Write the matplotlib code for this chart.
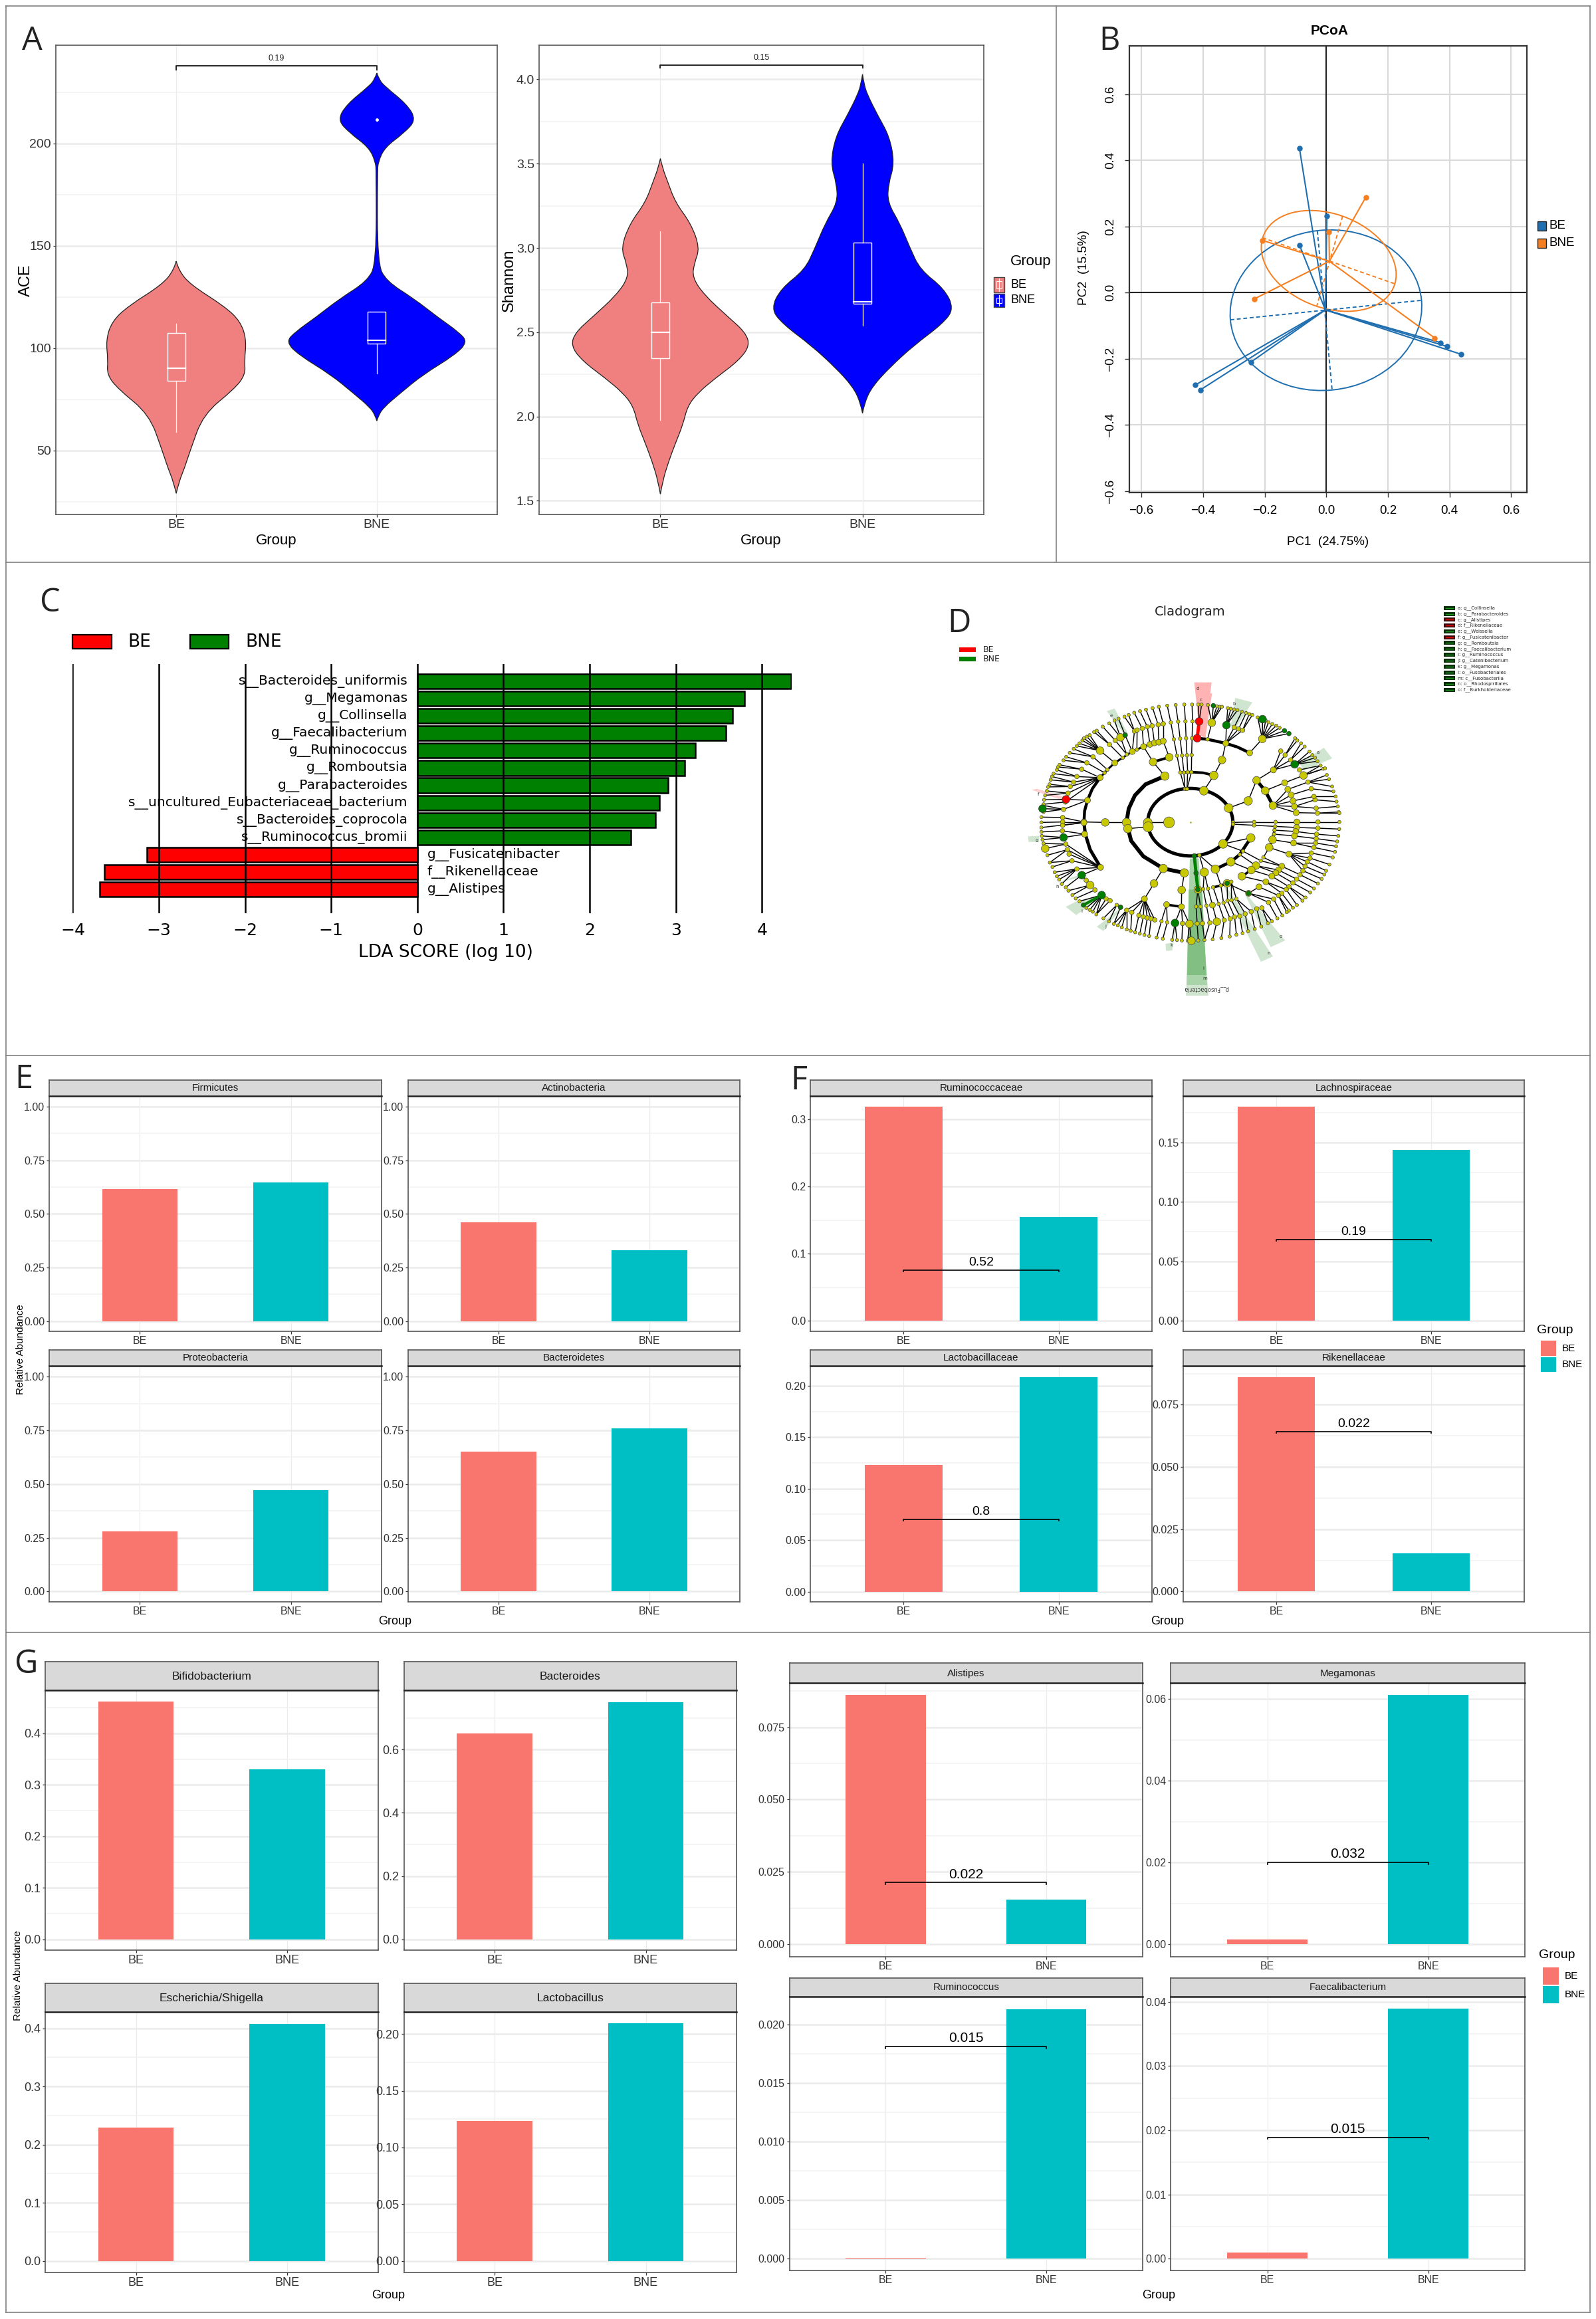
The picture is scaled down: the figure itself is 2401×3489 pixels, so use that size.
import matplotlib
matplotlib.use('Agg')
import matplotlib.pyplot as plt
from matplotlib.lines import Line2D
from matplotlib.patches import Ellipse, PathPatch, Polygon, Rectangle
from matplotlib.path import Path

W, H = 2401, 3489
NARROW = ['Liberation Sans', 'DejaVu Sans']
SANS = ['Liberation Sans', 'DejaVu Sans']
SALMON = '#F8766D'
TEAL = '#00BFC4'
GROUPS = ['BE', 'BNE']

# Panel A violins: value along y, half width in category units
ace_be_y = [142.4, 138, 131, 120.4, 113, 104, 94, 87, 80, 67.6, 50, 41, 35, 29]
ace_be_w = [0, .012, .07, .24, .32, .35, .34, .345, .29, .135, .07, .04, .015, 0]
ace_bne_y = [234.3, 231, 227.8, 219, 211.4, 205, 198, 191, 186, 141.5, 132.7, 124, 115, 108, 103, 96.6, 87, 78, 71, 67, 64.4]
ace_bne_w = [0, .012, .04, .15, .196, .135, .04, .007, .003, .003, .047, .186, .304, .405, .453, .389, .23, .118, .034, .008, 0]
sha_be_y = [3.53, 3.47, 3.40, 3.27, 3.145, 3.0, 2.91, 2.825, 2.72, 2.59, 2.5, 2.42, 2.33, 2.23, 2.14, 2.06, 1.95, 1.84, 1.73, 1.62, 1.54]
sha_be_w = [0, .012, .034, .074, .151, .195, .168, .158, .218, .336, .42, .443, .386, .275, .185, .134, .111, .074, .04, .012, 0]
sha_bne_y = [4.03, 3.97, 3.91, 3.79, 3.66, 3.5, 3.38, 3.27, 3.145, 3.0, 2.87, 2.76, 2.64, 2.55, 2.42, 2.29, 2.18, 2.09, 2.02]
sha_bne_w = [0, .008, .024, .074, .134, .158, .128, .124, .185, .235, .286, .403, .453, .396, .252, .134, .05, .012, 0]
# whisker low, q1, median, q3, whisker high
ace_boxes = [(59, 84, 90, 107.4, 112), (87.5, 102, 103.7, 117.8, 117.8)]
sha_boxes = [(1.98, 2.345, 2.5, 2.675, 3.1), (2.54, 2.67, 2.68, 3.03, 3.5)]

# Panel B ordination
pc_be_x = [-.087, .002, -.087, -.425, -.409, -.245, .371, .393, .437]
pc_be_y = [.436, .232, .144, -.279, -.294, -.21, -.151, -.163, -.186]
pc_bne_x = [.128, .009, -.207, -.234, .352]
pc_bne_y = [.288, .184, .158, -.019, -.137]
pc_be_centre = (-.003, -.052)
pc_bne_centre = (.010, .095)
pc_be_axes = [((-.311, -.082), (.31, -.023)), ((-.029, .187), (.019, -.295))]
pc_bne_axes = [((-.207, .166), (.222, .027)), ((.053, .231), (-.031, -.041))]

# Panel C LDA
lda_names = ['s__Bacteroides_uniformis', 'g__Megamonas', 'g__Collinsella', 'g__Faecalibacterium',
             'g__Ruminococcus', 'g__Romboutsia', 'g__Parabacteroides',
             's__uncultured_Eubacteriaceae_bacterium', 's__Bacteroides_coprocola',
             's__Ruminococcus_bromii', 'g__Fusicatenibacter', 'f__Rikenellaceae', 'g__Alistipes']
lda_scores = [4.34, 3.80, 3.66, 3.58, 3.23, 3.10, 2.91, 2.81, 2.76, 2.48, -3.14, -3.63, -3.69]

# Panel D cladogram: (parent, children)
clade_top = [
    ((656, 592), [(560, 592)]), ((464, 592), [(368, 592)]), ((368, 592), [(272, 590)]),
    ((272, 590), [(176, 590), (176, 570)]), ((176, 590), [(80, 592)]), ((176, 570), [(80, 568)]),
    ((288, 492), [(191, 488), (180, 533)]), ((180, 533), [(85, 530), (90, 545), (88, 515)]),
    ((191, 488), [(92, 490)]), ((345, 390), [(262, 352), (240, 385), (225, 410), (210, 430), (200, 460), (188, 500)]),
    ((188, 500), [(90, 510)]), ((200, 460), [(97, 470), (105, 450)]), ((210, 430), [(110, 432), (117, 420)]),
    ((225, 410), [(122, 400), (128, 385)]), ((240, 385), [(135, 372), (150, 355)]), ((262, 352), [(155, 342), (162, 332)]),
    ((365, 368), [(285, 323)]), ((378, 354), [(313, 296)]), ((285, 323), [(180, 312), (192, 296)]),
    ((313, 296), [(208, 278), (226, 260)]), ((411, 323), [(345, 268)]),
    ((345, 268), [(240, 247), (252, 235), (265, 222), (272, 212), (285, 205), (298, 198)]),
    ((447, 300), [(387, 240)]), ((387, 240), [(318, 184), (330, 178)]), ((465, 285), [(413, 222), (437, 208)]),
    ((413, 222), [(357, 160)]), ((437, 208), [(386, 145), (410, 132)]), ((490, 272), [(458, 198), (500, 180)]),
    ((458, 198), [(428, 124)]), ((500, 180), [(455, 115), (474, 107)]), ((511, 263), [(512, 175)]),
    ((541, 250), [(535, 168)]), ((570, 240), [(558, 160)]), ((590, 233), [(580, 156)]), ((610, 230), [(607, 151)]),
    ((630, 225), [(630, 147)]), ((535, 168), [(499, 97)]), ((558, 160), [(525, 90)]), ((580, 156), [(552, 83)]),
    ((607, 151), [(582, 76)]), ((630, 147), [(610, 70)]), ((637, 383), [(584, 319)]), ((584, 319), [(541, 250)]),
    ((657, 298), [(630, 225)]), ((728, 441), [(707, 367), (723, 367)]), ((737, 441), [(740, 365), (757, 365)]),
    ((707, 367), [(692, 291)]), ((692, 291), [(678, 217)]), ((678, 217), [(664, 141)]), ((664, 141), [(648, 65)]),
    ((723, 367), [(715, 290)]), ((715, 290), [(706, 214)]), ((706, 214), [(697, 137)]), ((697, 137), [(686, 62)]),
    ((740, 365), [(737, 289)]), ((737, 289), [(733, 212)]), ((733, 212), [(730, 136)]), ((730, 136), [(725, 60)]),
    ((757, 365), [(758, 288)]), ((758, 288), [(760, 212)]), ((760, 212), [(762, 136)]), ((762, 136), [(760, 60)]),
    ((813, 449), [(858, 380)]), ((858, 380), [(895, 310)]), ((895, 310), [(912, 235)]), ((792, 136), [(788, 60), (803, 60)]),
    ((830, 217), [(849, 142)]), ((849, 142), [(831, 62), (856, 65), (872, 68), (884, 70), (895, 70)]),
    ((912, 235), [(950, 163), (915, 153), (970, 170), (988, 176)]), ((915, 153), [(921, 76), (935, 79), (950, 82), (965, 85)]),
    ((950, 163), [(985, 92)]), ((970, 170), [(1004, 98)]), ((988, 176), [(1018, 103), (1032, 107)]),
    ((1020, 278), [(1077, 215)]),
    ((1077, 215), [(1056, 118), (1078, 126), (1092, 132), (1105, 140), (1122, 148), (1140, 155), (1155, 165), (1177, 178), (1197, 191)]),
    ((925, 527), [(1013, 495)]), ((1013, 495), [(1051, 402)]), ((1090, 449), [(1178, 413)]), ((1178, 413), [(1263, 380)]),
    ((1051, 402), [(1127, 355)]), ((1127, 355), [(1180, 288), (1205, 310), (1223, 330), (1160, 270)]),
    ((1180, 288), [(1225, 212), (1235, 222)]), ((1205, 310), [(1252, 235), (1268, 250)]),
    ((1223, 330), [(1290, 272), (1303, 288), (1315, 300), (1326, 316)]), ((1245, 355), [(1340, 335)]),
    ((1263, 380), [(1352, 350), (1340, 335), (1360, 348)]),
    ((1125, 516), [(1230, 548), (1222, 520), (1215, 495), (1207, 468), (1192, 443)]),
    ((1230, 548), [(1326, 550)]), ((1222, 520), [(1320, 528), (1315, 490)]), ((1215, 495), [(1310, 475)]),
    ((1207, 468), [(1298, 440)]), ((1192, 443), [(1283, 410)]), ((1326, 550), [(1422, 545), (1425, 550)]),
    ((1320, 528), [(1418, 520)]), ((1315, 490), [(1412, 498)]), ((1310, 475), [(1408, 475)]), ((1298, 440), [(1398, 452)]),
    ((1283, 410), [(1378, 397), (1368, 378), (1392, 430)]), ((945, 592), [(1040, 590)]), ((1040, 590), [(1137, 590)]),
    ((1137, 590), [(1233, 590)]), ((1233, 590), [(1328, 590)]), ((1328, 590), [(1425, 590)]),
]
clade_bottom = [
    ((945, 15), [(1040, 20)]), ((1040, 20), [(1135, 25)]), ((1135, 25), [(1232, 30)]), ((1232, 30), [(1328, 33)]),
    ((1328, 33), [(1424, 37)]), ((1132, 42), [(1228, 48)]), ((1228, 48), [(1322, 60)]), ((1322, 60), [(1420, 68)]),
    ((1130, 60), [(1222, 68)]), ((1222, 68), [(1320, 80)]), ((1320, 80), [(1415, 93)]), ((1123, 85), [(1218, 100)]),
    ((1218, 100), [(1318, 100), (1310, 120)]), ((1318, 100), [(1410, 115)]), ((1310, 120), [(1405, 140)]),
    ((1108, 120), [(1197, 150), (1082, 165)]), ((1197, 150), [(1298, 145), (1292, 168), (1280, 185), (1270, 205), (1260, 225)]),
    ((1298, 145), [(1395, 165)]), ((1292, 168), [(1380, 197)]), ((1280, 185), [(1365, 225)]), ((1270, 205), [(1357, 242)]),
    ((1260, 225), [(1345, 262)]), ((1082, 165), [(1165, 205)]), ((1165, 205), [(1247, 243)]), ((1247, 243), [(1328, 283)]),
    ((900, 104), [(1025, 77), (990, 137)]), ((990, 137), [(1070, 180)]), ((1070, 180), [(1165, 205)]),
    ((975, 152), [(1048, 202)]), ((1048, 202), [(1150, 222), (1138, 235)]), ((1150, 222), [(1232, 263)]),
    ((1232, 263), [(1310, 305)]), ((1138, 235), [(1215, 280)]), ((1215, 280), [(1293, 323)]), ((935, 185), [(1027, 222)]),
    ((1027, 222), [(1120, 250), (985, 250)]), ((1120, 250), [(1197, 297)]), ((1197, 297), [(1272, 346), (1258, 360)]),
    ((985, 250), [(1093, 275)]), ((1093, 275), [(1185, 310), (1165, 327)]), ((1185, 310), [(1233, 380)]), ((1165, 327), [(1215, 392)]),
    ((918, 282), [(1015, 327), (920, 360)]), ((1015, 327), [(1062, 298), (1128, 353), (1105, 368)]), ((1062, 298), [(1150, 337)]),
    ((1150, 337), [(1197, 405), (1187, 412)]), ((1128, 353), [(1167, 427)]), ((1105, 368), [(1145, 440)]),
    ((960, 352), [(1000, 420)]), ((1000, 420), [(1013, 498)]), ((975, 430), [(988, 507)]), ((952, 434), [(960, 514)]),
    ((932, 442), [(930, 522)]), ((905, 448), [(892, 529)]), ((872, 455), [(853, 535)]), ((840, 460), [(816, 538)]),
    ((1052, 397), [(1072, 477)]), ((1075, 393), [(1120, 453), (1102, 462)]), ((1027, 410), [(1043, 488)]),
    ((960, 352), [(1027, 410)]), ((938, 358), [(975, 430)]), ((920, 360), [(952, 434)]), ((902, 370), [(932, 442)]),
    ((880, 375), [(905, 448)]), ((852, 380), [(872, 455)]), ((825, 383), [(840, 460)]), ((810, 308), [(825, 383)]),
    ((832, 306), [(852, 380)]), ((855, 300), [(880, 375)]), ((890, 292), [(902, 370)]), ((937, 275), [(938, 358), (960, 352)]),
    ((815, 232), [(810, 308), (832, 306)]), ((793, 155), [(815, 232), (865, 218)]), ((865, 218), [(890, 292)]),
    ((786, 310), [(778, 387), (798, 387)]), ((778, 387), [(783, 464)]), ((798, 387), [(807, 463)]), ((783, 464), [(788, 540)]),
    ((807, 463), [(816, 538)]), ((725, 235), [(713, 312)]), ((713, 312), [(712, 388)]), ((712, 388), [(748, 465), (717, 463), (683, 461)]),
    ((645, 378), [(622, 453), (648, 458)]), ((683, 461), [(670, 537), (692, 538)]), ((717, 463), [(714, 540)]),
    ((748, 465), [(740, 541), (757, 541)]), ((622, 453), [(600, 527)]), ((648, 458), [(628, 532)]), ((630, 215), [(588, 283)]),
    ((588, 283), [(545, 352)]), ((545, 352), [(465, 403), (488, 413), (520, 427), (540, 433), (558, 438), (575, 442), (592, 447)]),
    ((465, 403), [(443, 481), (425, 472), (465, 490), (407, 465)]), ((488, 413), [(483, 496)]), ((520, 427), [(503, 503)]),
    ((540, 433), [(524, 509)]), ((558, 438), [(545, 515)]), ((575, 442), [(566, 520)]), ((420, 380), [(360, 440), (385, 454)]),
    ((437, 390), [(407, 465)]), ((347, 210), [(262, 245), (240, 217), (218, 180), (205, 150), (197, 130), (190, 105)]),
    ((240, 217), [(150, 250), (140, 232), (160, 265), (172, 285)]), ((262, 245), [(282, 268), (190, 300)]),
    ((300, 290), [(202, 315), (220, 335)]), ((322, 312), [(235, 350)]),
    ((352, 335), [(283, 393), (298, 402), (312, 410), (328, 422), (252, 363)]), ((372, 352), [(328, 422)]),
    ((390, 360), [(328, 422)]), ((275, 60), [(180, 75), (175, 45)]), ((180, 75), [(85, 85), (82, 68)]), ((175, 45), [(80, 50)]),
    ((190, 105), [(90, 102), (97, 125)]), ((197, 130), [(107, 155), (118, 188)]), ((218, 180), [(130, 208), (118, 188)]),
    ((562, 27), [(470, 35)]), ((272, 8), [(176, 20), (80, 30)]),
]
clade_thick_top = [
    ([(272, 590), (275, 540), (288, 492), (310, 440), (345, 390)], 3.2),
    ([(345, 390), (378, 354), (411, 323), (447, 300), (490, 272), (541, 250), (590, 233), (630, 225)], 2.2),
    ([(783, 212), (830, 217), (912, 235), (965, 252), (1020, 278)], 3.2),
    ([(464, 592), (474, 530), (502, 470), (550, 420), (637, 383)], 4.2),
    ([(707, 367), (757, 365), (810, 368), (858, 380)], 2.8),
    ([(584, 319), (657, 298)], 2.8),
    ([(1051, 402), (1090, 449), (1125, 516)], 3.6),
]
clade_thick_bottom = [
    ([(272, 8), (278, 60), (300, 130), (347, 210)], 3.6),
    ([(464, 8), (485, 90), (540, 160), (630, 215), (725, 235)], 4.2),
    ([(1025, 77), (975, 152), (935, 185), (865, 218)], 3.4),
    ([(1108, 120), (1123, 85), (1135, 25)], 2.6),
    ([(855, 300), (890, 292), (918, 282)], 2.6),
    ([(645, 378), (712, 388)], 2.6),
    ([(1027, 222), (985, 250)], 2.6),
]
clade_green_top = [(85, 530), (458, 198), (856, 65), (915, 153), (1078, 126), (1177, 178), (1197, 191), (1223, 330)]
clade_green_bottom = [(180, 75), (262, 245), (352, 335), (270, 380), (437, 390), (683, 461), (770, 158), (778, 236),
                      (786, 310), (918, 282), (1015, 327)]
clade_green_big = [(915, 153), (1078, 126), (1223, 330), (262, 245), (352, 335), (683, 461), (85, 530), (180, 75)]
clade_red_top = [(191, 488), (783, 212), (792, 136)]
clade_small_top = [(707, 367), (723, 367), (740, 365), (757, 365), (728, 441), (737, 441), (692, 291), (715, 290), (737, 289),
                   (758, 288), (678, 217), (706, 214), (733, 212), (760, 212), (664, 141), (697, 137), (730, 136), (762, 136),
                   (465, 285), (447, 300), (511, 263), (365, 368), (378, 354), (830, 217), (945, 592), (1040, 590), (1137, 590)]
clade_small_bottom = [(945, 15), (1040, 20), (1135, 25), (1132, 42), (1130, 60), (990, 137), (778, 387), (798, 387), (810, 308),
                      (832, 306), (855, 300), (890, 292), (937, 275), (825, 383), (880, 375), (902, 370), (920, 360),
                      (938, 358), (960, 352), (975, 152), (793, 155), (1082, 165), (1070, 180), (420, 380), (622, 453), (648, 458)]
clade_big_top = [(437, 208), (345, 268), (1077, 215), (1263, 380), (849, 142)]
clade_big_bottom = [(872, 455), (748, 465), (97, 125), (757, 541), (300, 290)]
# shaded clades: polygon, colour, label, label position
shade_top = [
    ([(770, -40), (848, -40), (820, 210), (795, 200)], '#ffb3b3', 'd', (785, -12)),
    ([(797, 10), (850, 10), (820, 210), (795, 200)], '#ffb3b3', 'c', (799, 38)),
    ([(375, 90), (410, 78), (470, 190), (455, 195)], '#cfe5cf', 'e', (395, 112)),
    ([(955, 30), (1032, 50), (960, 160), (935, 155)], '#cfe5cf', 'b', (950, 57)),
    ([(1355, 255), (1392, 303), (1265, 358), (1245, 325)], '#cfe5cf', 'a', (1328, 275)),
    ([(35, 445), (60, 440), (190, 480), (185, 495)], '#ffd0d0', 'f', (65, 465)),
]
shade_bottom = [
    ([(20, 70), (70, 68), (70, 95), (22, 95)], '#cfe5cf', 'g', (58, 88)),
    ([(113, 290), (150, 280), (262, 240), (272, 250)], '#cfe5cf', 'h', (152, 298)),
    ([(190, 388), (235, 365), (345, 335), (355, 345), (237, 425)], '#cfe5cf', 'i', (262, 408)),
    ([(330, 478), (360, 455), (440, 390), (440, 395), (360, 497)], '#cfe5cf', 'j', (370, 477)),
    ([(640, 555), (672, 550), (680, 465), (690, 470), (670, 585), (643, 587)], '#cfe5cf', 'k', (668, 562)),
    ([(1005, 330), (1180, 540), (1115, 570), (1000, 335)], '#cfe5cf', 'o', (1160, 521)),
    ([(910, 290), (1125, 612), (1071, 636), (905, 300)], '#cfe5cf', 'n', (1105, 598)),
    ([(765, 160), (785, 160), (834, 789), (732, 789)], '#cfe5cf', '', (0, 0)),
    ([(750, 170), (790, 170), (828, 741), (735, 741)], '#a9d4a9', 'm', (818, 711)),
    ([(745, 310), (805, 310), (825, 696), (738, 696)], '#82bf82', 'l', (812, 666)),
]
clade_legend = ['a: g__Collinsella', 'b: g__Parabacteroides', 'c: g__Alistipes', 'd: f__Rikenellaceae',
                'e: g__Weissella', 'f: g__Fusicatenibacter', 'g: g__Romboutsia', 'h: g__Faecalibacterium',
                'i: g__Ruminococcus', 'j: g__Catenibacterium', 'k: g__Megamonas', 'l: o__Fusobacteriales',
                'm: c__Fusobacteriia', 'n: o__Rhodospirillales', 'o: f__Burkholderiaceae']
clade_legend_red = ['c', 'd', 'f']

# Panels E, F, G: taxon, BE, BNE, p value, bracket height
phylum_names = ['Firmicutes', 'Actinobacteria', 'Proteobacteria', 'Bacteroidetes']
phylum_be = [.615, .46, .28, .65]
phylum_bne = [.648, .33, .473, .758]
family_names = ['Ruminococcaceae', 'Lachnospiraceae', 'Lactobacillaceae', 'Rikenellaceae']
family_be = [.319, .18, .1232, .086]
family_bne = [.1547, .144, .2086, .0154]
family_p = ['0.52', '0.19', '0.8', '0.022']
family_bracket = [.0757, .0685, .0704, .0642]
family_ylim = [(-.0154, .3346), (-.00868, .189), (-.01, .2194), (-.00415, .0906)]
family_ticks = [[0, .1, .2, .3], [0, .05, .1, .15], [0, .05, .1, .15, .2], [0, .025, .05, .075]]
family_fmt = ['%.1f', '%.2f', '%.2f', '%.3f']
genus_names = ['Bifidobacterium', 'Bacteroides', 'Escherichia/Shigella', 'Lactobacillus']
genus_be = [.4624, .65, .2295, .1235]
genus_bne = [.33, .75, .408, .2093]
genus_ylim = [(-.0214, .484), (-.0348, .788), (-.0197, .428), (-.0101, .2194)]
genus_ticks = [[0, .1, .2, .3, .4], [0, .2, .4, .6], [0, .1, .2, .3, .4], [0, .05, .1, .15, .2]]
genus_fmt = ['%.1f', '%.1f', '%.1f', '%.2f']
genus2_names = ['Alistipes', 'Megamonas', 'Ruminococcus', 'Faecalibacterium']
genus2_be = [.0861, .0012, .0001, .0009]
genus2_bne = [.0155, .061, .0213, .0389]
genus2_p = ['0.022', '0.032', '0.015', '0.015']
genus2_bracket = [.0213, .02, .0181, .0189]
genus2_ylim = [(-.00426, .0904), (-.003, .064), (-.001, .02237), (-.00185, .0408)]
genus2_ticks = [[0, .025, .05, .075], [0, .02, .04, .06], [0, .005, .01, .015, .02], [0, .01, .02, .03, .04]]
genus2_fmt = ['%.3f', '%.2f', '%.3f', '%.2f']

fig = plt.figure(figsize=(W / 100, H / 100), dpi=100, facecolor='white')


def px_axes(x0, y0, x1, y1):
    return fig.add_axes([x0 / W, 1 - y1 / H, (x1 - x0) / W, (y1 - y0) / H])


def put_text(x, y, s, **kw):
    kw.setdefault('ha', 'center')
    kw.setdefault('va', 'center')
    return fig.text(x / W, 1 - y / H, s, **kw)


def put_rect(x0, y0, x1, y1, **kw):
    fig.add_artist(Rectangle((x0 / W, 1 - y1 / H), (x1 - x0) / W, (y1 - y0) / H, transform=fig.transFigure, **kw))


def put_line(x0, y0, x1, y1, color='#808080', lw=1.2):
    fig.add_artist(Line2D([x0 / W, x1 / W], [1 - y0 / H, 1 - y1 / H], color=color, lw=lw, transform=fig.transFigure))


def gg_axes(ax, ylim, ticks, fmt, tick_size):
    # theme_bw look: pale grid, thin dark frame
    ax.set_xlim(.4, 2.6)
    ax.set_ylim(*ylim)
    ax.set_xticks([1, 2])
    ax.set_xticklabels(GROUPS, family=NARROW, fontsize=tick_size, color='#333333')
    ax.set_yticks(ticks)
    ax.set_yticklabels([fmt % t for t in ticks], family=NARROW, fontsize=tick_size, color='#333333')
    step = ticks[1] - ticks[0]
    minor = [t + step / 2 for t in ticks] + [ticks[0] - step / 2]
    minor = [m for m in minor if ylim[0] < m < ylim[1]]
    ax.set_yticks(minor, minor=True)
    ax.tick_params(axis='y', which='minor', length=0)
    ax.tick_params(axis='both', which='major', length=3, width=.9, color='#333333', pad=2)
    ax.grid(axis='y', which='major', color='#EBEBEB', lw=1.8)
    ax.grid(axis='y', which='minor', color='#F2F2F2', lw=1.2)
    ax.grid(axis='x', which='major', color='#EBEBEB', lw=.9)
    ax.set_axisbelow(True)
    for s in ax.spines.values():
        s.set_color('#555555')
        s.set_linewidth(1.2)


def add_bracket(ax, top, label, size):
    tip = (ax.get_ylim()[1] - ax.get_ylim()[0]) * .007
    ax.plot([1, 1, 2, 2], [top - tip, top, top, top - tip], color='black', lw=1.2, zorder=5)
    ax.annotate(label, (1.5, top), xytext=(0, 2), textcoords='offset points', ha='center', va='bottom',
                family=NARROW, fontsize=size, color='black')


def facet_grid(cols, rows, names, be, bne, ylims, ticks, fmts, tick_size, title_size, p=None, bracket=None, p_size=14):
    i = 0
    for s0, s1, y1 in rows:
        for x0, x1 in cols:
            ax = px_axes(x0, s1, x1, y1)
            gg_axes(ax, ylims[i], ticks[i], fmts[i], tick_size)
            ax.bar([1, 2], [be[i], bne[i]], width=.5, color=[SALMON, TEAL], zorder=3)
            strip = px_axes(x0, s0, x1, s1)
            strip.set_facecolor('#D9D9D9')
            strip.set_xticks([])
            strip.set_yticks([])
            for s in strip.spines.values():
                s.set_color('#555555')
                s.set_linewidth(1.2)
            strip.spines['bottom'].set_color('#222222')
            strip.spines['bottom'].set_linewidth(1.8)
            strip.text(.5, .48, names[i], transform=strip.transAxes, ha='center', va='center', family=NARROW,
                       fontsize=title_size, color='#1a1a1a')
            if p:
                add_bracket(ax, bracket[i], p[i], p_size)
            i += 1


def smooth_side(pts, verts, codes):
    # quadratic curve through the midpoints, anchored on both tips
    for a, b in zip(pts[1:-2], pts[2:-1]):
        verts += [a, ((a[0] + b[0]) / 2, (a[1] + b[1]) / 2)]
        codes += [Path.CURVE3, Path.CURVE3]
    verts += [pts[-2], pts[-1]]
    codes += [Path.CURVE3, Path.CURVE3]


def violin(ax, pos, ys, hw, colour):
    right = [(pos + w, y) for y, w in zip(ys, hw)]
    left = [(pos - w, y) for y, w in zip(ys, hw)][::-1]
    verts = [right[0]]
    codes = [Path.MOVETO]
    smooth_side(right, verts, codes)
    smooth_side(left, verts, codes)
    ax.add_patch(PathPatch(Path(verts, codes), fc=colour, ec='#222222', lw=.9, zorder=3))


def box_in_violin(ax, pos, stats):
    lo, q1, med, q3, hi = stats
    ax.plot([pos, pos], [lo, q1], color='white', lw=.9, zorder=4)
    ax.plot([pos, pos], [q3, hi], color='white', lw=.9, zorder=4)
    ax.add_patch(Rectangle((pos - .045, q1), .09, q3 - q1, fc='none', ec='white', lw=1, zorder=4))
    ax.plot([pos - .045, pos + .045], [med, med], color='white', lw=1.6, zorder=4)


# panel frames
for seg in [(9, 9, 2392, 9), (9, 9, 9, 3479), (2392, 9, 2392, 3479), (9, 3479, 2392, 3479),
            (9, 846, 2392, 846), (9, 1588, 2392, 1588), (9, 2456, 2392, 2456), (1589, 9, 1589, 846)]:
    put_line(*seg)
for letter, x, y in [('A', 48, 62), ('B', 1669, 62), ('C', 75, 907), ('D', 1443, 938),
                     ('E', 36, 1624), ('F', 1202, 1626), ('G', 40, 2504)]:
    put_text(x, y, letter, family=['Open Sans', 'DejaVu Sans'], fontsize=35, color='#222222')

# A
ax_ace = px_axes(84, 68, 748, 774)
gg_axes(ax_ace, (18.7, 247.9), [50, 100, 150, 200], '%d', 14)
violin(ax_ace, 1, ace_be_y, ace_be_w, '#F08080')
violin(ax_ace, 2, ace_bne_y, ace_bne_w, '#0000FF')
for i, st in enumerate(ace_boxes):
    box_in_violin(ax_ace, i + 1, st)
ax_ace.plot([2], [211.5], 'o', color='white', ms=2.5, zorder=5)
ax_ace.plot([1, 1, 2, 2], [236, 237.8, 237.8, 236], color='#222222', lw=1.4, zorder=5)
ax_ace.text(1.5, 241.5, '0.19', ha='center', va='center', family=NARROW, fontsize=9, color='#222222')

ax_sha = px_axes(811, 68, 1480, 774)
gg_axes(ax_sha, (1.419, 4.203), [1.5, 2, 2.5, 3, 3.5, 4], '%.1f', 14)
violin(ax_sha, 1, sha_be_y, sha_be_w, '#F08080')
violin(ax_sha, 2, sha_bne_y, sha_bne_w, '#0000FF')
for i, st in enumerate(sha_boxes):
    box_in_violin(ax_sha, i + 1, st)
ax_sha.plot([1, 1, 2, 2], [4.07, 4.086, 4.086, 4.07], color='#222222', lw=1.4, zorder=5)
ax_sha.text(1.5, 4.13, '0.15', ha='center', va='center', family=NARROW, fontsize=9, color='#222222')

put_text(416, 814, 'Group', family=NARROW, fontsize=16)
put_text(1145, 814, 'Group', family=NARROW, fontsize=16)
put_text(39, 422, 'ACE', family=SANS, fontsize=17, rotation=90)
put_text(766, 422, 'Shannon', family=SANS, fontsize=17, rotation=90)
put_text(1520, 393, 'Group', family=NARROW, fontsize=16, ha='left')
for y0, y1, c, t in [(417, 440, '#F08080', 'BE'), (442, 462, '#0000FF', 'BNE')]:
    put_rect(1495, y0, 1511, y1, fc=c, ec='#444444', lw=1)
    put_line(1503, y0 + 2, 1503, y1 - 2, color='white', lw=.8)
    put_rect(1499, y0 + 6, 1507, y1 - 6, fc='none', ec='white', lw=.8)
    put_text(1520, (y0 + y1) / 2, t, family=NARROW, fontsize=13, ha='left')

# B
ax_pc = px_axes(1699, 69, 2297, 741)
ax_pc.set_xlim(-.639, .651)
ax_pc.set_ylim(-.604, .746)
pc_ticks = [-.6, -.4, -.2, 0, .2, .4, .6]
pc_lab = ['\u22120.6', '\u22120.4', '\u22120.2', '0.0', '0.2', '0.4', '0.6']
ax_pc.set_xticks(pc_ticks)
ax_pc.set_xticklabels(pc_lab, family=SANS, fontsize=13.5)
ax_pc.set_yticks(pc_ticks)
ax_pc.set_yticklabels(pc_lab, family=SANS, fontsize=13.5, rotation=90, va='center')
ax_pc.tick_params(length=5, width=1, color='#333333', pad=9)
ax_pc.grid(color='#D9D9D9', lw=1.5)
ax_pc.set_axisbelow(True)
ax_pc.axhline(0, color='#222222', lw=1.5, zorder=2)
ax_pc.axvline(0, color='#222222', lw=1.5, zorder=2)
for s in ax_pc.spines.values():
    s.set_color('#333333')
    s.set_linewidth(1.6)
BLUE, ORANGE = '#1F6FB0', '#F57F20'
ax_pc.add_patch(Ellipse((-.001, -.053), .623, .484, angle=5.4, fc='none', ec=BLUE, lw=1.4, zorder=3))
ax_pc.add_patch(Ellipse((.008, .096), .451, .285, angle=-18, fc='none', ec=ORANGE, lw=1.4, zorder=3))
for group_axes, c in [(pc_be_axes, BLUE), (pc_bne_axes, ORANGE)]:
    for (a, b) in group_axes:
        ax_pc.plot([a[0], b[0]], [a[1], b[1]], color=c, lw=1.4, ls=(0, (3, 2)), zorder=3)
for xs, ys, ctr, c in [(pc_be_x, pc_be_y, pc_be_centre, BLUE), (pc_bne_x, pc_bne_y, pc_bne_centre, ORANGE)]:
    for x, y in zip(xs, ys):
        ax_pc.plot([ctr[0], x], [ctr[1], y], color=c, lw=1.5, zorder=3)
    ax_pc.scatter(xs, ys, s=26, color=c, zorder=4)
put_text(2000, 47, 'PCoA', family=SANS, fontsize=15, weight='bold')
put_text(1998, 815, 'PC1  (24.75%)', family=SANS, fontsize=13.5)
put_text(1631, 403, 'PC2  (15.5%)', family=SANS, fontsize=13.5, rotation=90)
for y, c, t in [(340, BLUE, 'BE'), (366, ORANGE, 'BNE')]:
    put_rect(2313, y - 7, 2326, y + 7, fc=c, ec='#222222', lw=1)
    put_text(2331, y, t, family=SANS, fontsize=13.5, ha='left')

# C
ax_lda = px_axes(109.4, 999, 1191, 1374)
ax_lda.set_xlim(-4, 4.345)
ax_lda.set_ylim(-1.38, 13)
row = list(range(len(lda_scores) - 1, -1, -1))
for y, v, name in zip(row, lda_scores, lda_names):
    ax_lda.barh(y, v, height=.85, color='green' if v > 0 else 'red', edgecolor='black', lw=1.8, zorder=1)
    ax_lda.text(-.11 if v > 0 else .115, y, name, ha='right' if v > 0 else 'left', va='center',
                family='DejaVu Sans', fontsize=14.5, zorder=4)
ax_lda.set_xticks(range(-4, 5))
ax_lda.set_xticklabels(['\u2212%d' % -t if t < 0 else str(t) for t in range(-4, 5)], family='DejaVu Sans', fontsize=18)
ax_lda.set_yticks([])
ax_lda.tick_params(length=0, pad=10)
ax_lda.grid(axis='x', color='black', lw=1.8, zorder=3)
ax_lda.set_axisbelow(False)
for s in ax_lda.spines.values():
    s.set_visible(False)
put_text(670, 1433, 'LDA SCORE (log 10)', family='DejaVu Sans', fontsize=19)
put_rect(109, 955, 168, 976, fc='red', ec='black', lw=1.6)
put_text(192, 966, 'BE', family='DejaVu Sans', fontsize=19, ha='left')
put_rect(286, 955, 344, 976, fc='green', ec='black', lw=1.6)
put_text(369, 966, 'BNE', family='DejaVu Sans', fontsize=19, ha='left')

# D
ax_clade = px_axes(1540, 1020, 2040, 1505)
ax_clade.set_xlim(1540, 2040)
ax_clade.set_ylim(1505, 1020)
ax_clade.axis('off')


def top_xy(p):
    return 1540 + p[0] / 3, 1040 + p[1] / 3


def bottom_xy(p):
    return 1540 + p[0] / 3, 1235 + p[1] / 3


def node_size(x, y):
    level = round((((x - 1790.7) / 32) ** 2 + ((y - 1237) / 25.4) ** 2) ** .5)
    return {0: 12, 1: 140, 2: 90, 3: 85, 4: 70, 5: 42, 6: 24}.get(level, 12)


sizes = {}
for table, conv in [(shade_top, top_xy), (shade_bottom, bottom_xy)]:
    for poly, c, label, lab_xy in table:
        ax_clade.add_patch(Polygon([conv(p) for p in poly], fc=c, ec='none', zorder=1))
        if label:
            x, y = conv(lab_xy)
            ax_clade.text(x, y, label, fontsize=5, ha='center', va='center', zorder=6, color='#333333')
ax_clade.text(1814, 1488, 'p__Fusobacteria', fontsize=6, rotation=180, ha='center', va='center', zorder=6, color='#333333')
ax_clade.add_patch(Ellipse((1790.7, 1237), 128, 101.6, fc='none', ec='black', lw=3.6, zorder=2))
for fans, thick, conv in [(clade_top, clade_thick_top, top_xy), (clade_bottom, clade_thick_bottom, bottom_xy)]:
    for line, lw in thick:
        pts = [conv(p) for p in line]
        ax_clade.plot([p[0] for p in pts], [p[1] for p in pts], color='black', lw=lw, solid_capstyle='round', zorder=2)
    for parent, kids in fans:
        px, py = conv(parent)
        sizes[(px, py)] = node_size(px, py)
        for k in kids:
            kx, ky = conv(k)
            sizes[(kx, ky)] = node_size(kx, ky)
            ax_clade.plot([px, kx], [py, ky], color='black', lw=1.05, zorder=2)
for p in [(562, 27)]:
    sizes[bottom_xy(p)] = 120
for small, conv in [(clade_small_top, top_xy), (clade_small_bottom, bottom_xy)]:
    for p in small:
        sizes[conv(p)] = 15
for big, conv in [(clade_big_top, top_xy), (clade_big_bottom, bottom_xy)]:
    for p in big:
        sizes[conv(p)] = 70
ax_clade.scatter([k[0] for k in sizes], [k[1] for k in sizes], s=list(sizes.values()), c='#C8C800',
                 edgecolors='#444444', linewidths=.5, zorder=3)
ax_clade.plot([1540 + 783 / 3, 1540 + 792 / 3], [1040 + 212 / 3, 1040 + 136 / 3], color='red', lw=3.5, zorder=3)
green_chain = [bottom_xy(p) for p in [(770, 158), (778, 236), (786, 310)]]
ax_clade.plot([p[0] for p in green_chain], [p[1] for p in green_chain], color='green', lw=3.5, zorder=3)
chain_i = [bottom_xy(p) for p in [(352, 335), (270, 380)]]
ax_clade.plot([p[0] for p in chain_i], [p[1] for p in chain_i], color='green', lw=3, zorder=3)
for pts, conv, c in [(clade_green_top, top_xy, 'green'), (clade_green_bottom, bottom_xy, 'green'), (clade_red_top, top_xy, 'red')]:
    xy = [conv(p) for p in pts]
    ss = [70 if p in clade_green_big or c == 'red' else 24 for p in pts]
    ax_clade.scatter([p[0] for p in xy], [p[1] for p in xy], s=ss, c=c, edgecolors='#333333', linewidths=.5, zorder=4)
ax_clade.plot([1790.7], [1237], '.', color='#999900', ms=1.5)
put_text(1790, 920, 'Cladogram', family='DejaVu Sans', fontsize=14, color='#222222')
put_rect(1443, 974, 1468, 981, fc='red', ec='none')
put_text(1479, 977.5, 'BE', family='DejaVu Sans', fontsize=9, ha='left', color='#222222')
put_rect(1443, 988, 1468, 995, fc='green', ec='none')
put_text(1479, 991.5, 'BNE', family='DejaVu Sans', fontsize=9, ha='left', color='#222222')
for i, t in enumerate(clade_legend):
    y = 914.7 + 8.8 * i
    put_rect(2172, y - 3, 2189, y + 3, fc='#0a2a0a' if t[0] not in clade_legend_red else '#3a0a0a', ec='none')
    put_line(2175, y, 2186, y, color='red' if t[0] in clade_legend_red else '#1a9a1a', lw=1)
    put_text(2193, y, t, family='DejaVu Sans', fontsize=5, ha='left', color='#222222')

# E
facet_grid([(74, 574), (614, 1113)], [(1625, 1649, 2003), (2031, 2055, 2410)], phylum_names, phylum_be, phylum_bne,
           [(-.048, 1.05)] * 4, [[0, .25, .5, .75, 1]] * 4, ['%.2f'] * 4, 11.5, 11)
put_text(594, 2439, 'Group', family=NARROW, fontsize=13)
put_text(30.6, 2030, 'Relative Abundance', family=SANS, fontsize=11, rotation=90)

# F
facet_grid([(1219.4, 1732.6), (1780, 2293)], [(1625, 1649, 2003), (2031, 2055, 2410)], family_names, family_be, family_bne,
           family_ylim, family_ticks, family_fmt, 11.5, 11, family_p, family_bracket, 14)
put_text(1756, 2439, 'Group', family=NARROW, fontsize=13)
put_text(2339, 2002, 'Group', family=NARROW, fontsize=14)
for y0, y1, c, t in [(2017, 2040, SALMON, 'BE'), (2042, 2064, TEAL, 'BNE')]:
    put_rect(2318, y0, 2341, y1, fc=c, ec='none')
    put_text(2350, (y0 + y1) / 2, t, family=NARROW, fontsize=11, ha='left')

# G
facet_grid([(68, 568.6), (607.5, 1108)], [(2499.7, 2542.8, 2934.4), (2983.5, 3027, 3418.9)], genus_names, genus_be, genus_bne,
           genus_ylim, genus_ticks, genus_fmt, 13, 12.5)
put_text(584, 3453, 'Group', family=NARROW, fontsize=13)
put_text(27, 2972, 'Relative Abundance', family=SANS, fontsize=11, rotation=90)
facet_grid([(1187.5, 1719), (1761.4, 2294)], [(2502.4, 2531.5, 2943.7), (2975.5, 3004, 3416)], genus2_names, genus2_be, genus2_bne,
           genus2_ylim, genus2_ticks, genus2_fmt, 11.5, 11, genus2_p, genus2_bracket, 15)
put_text(1743.6, 3453, 'Group', family=NARROW, fontsize=13)
put_text(2342, 2942, 'Group', family=NARROW, fontsize=14)
for y0, y1, c, t in [(2960, 2985.5, SALMON, 'BE'), (2988, 3014, TEAL, 'BNE')]:
    put_rect(2320.7, y0, 2345, y1, fc=c, ec='none')
    put_text(2354, (y0 + y1) / 2, t, family=NARROW, fontsize=11, ha='left')

fig.savefig('out.png', dpi=100, facecolor='white')
